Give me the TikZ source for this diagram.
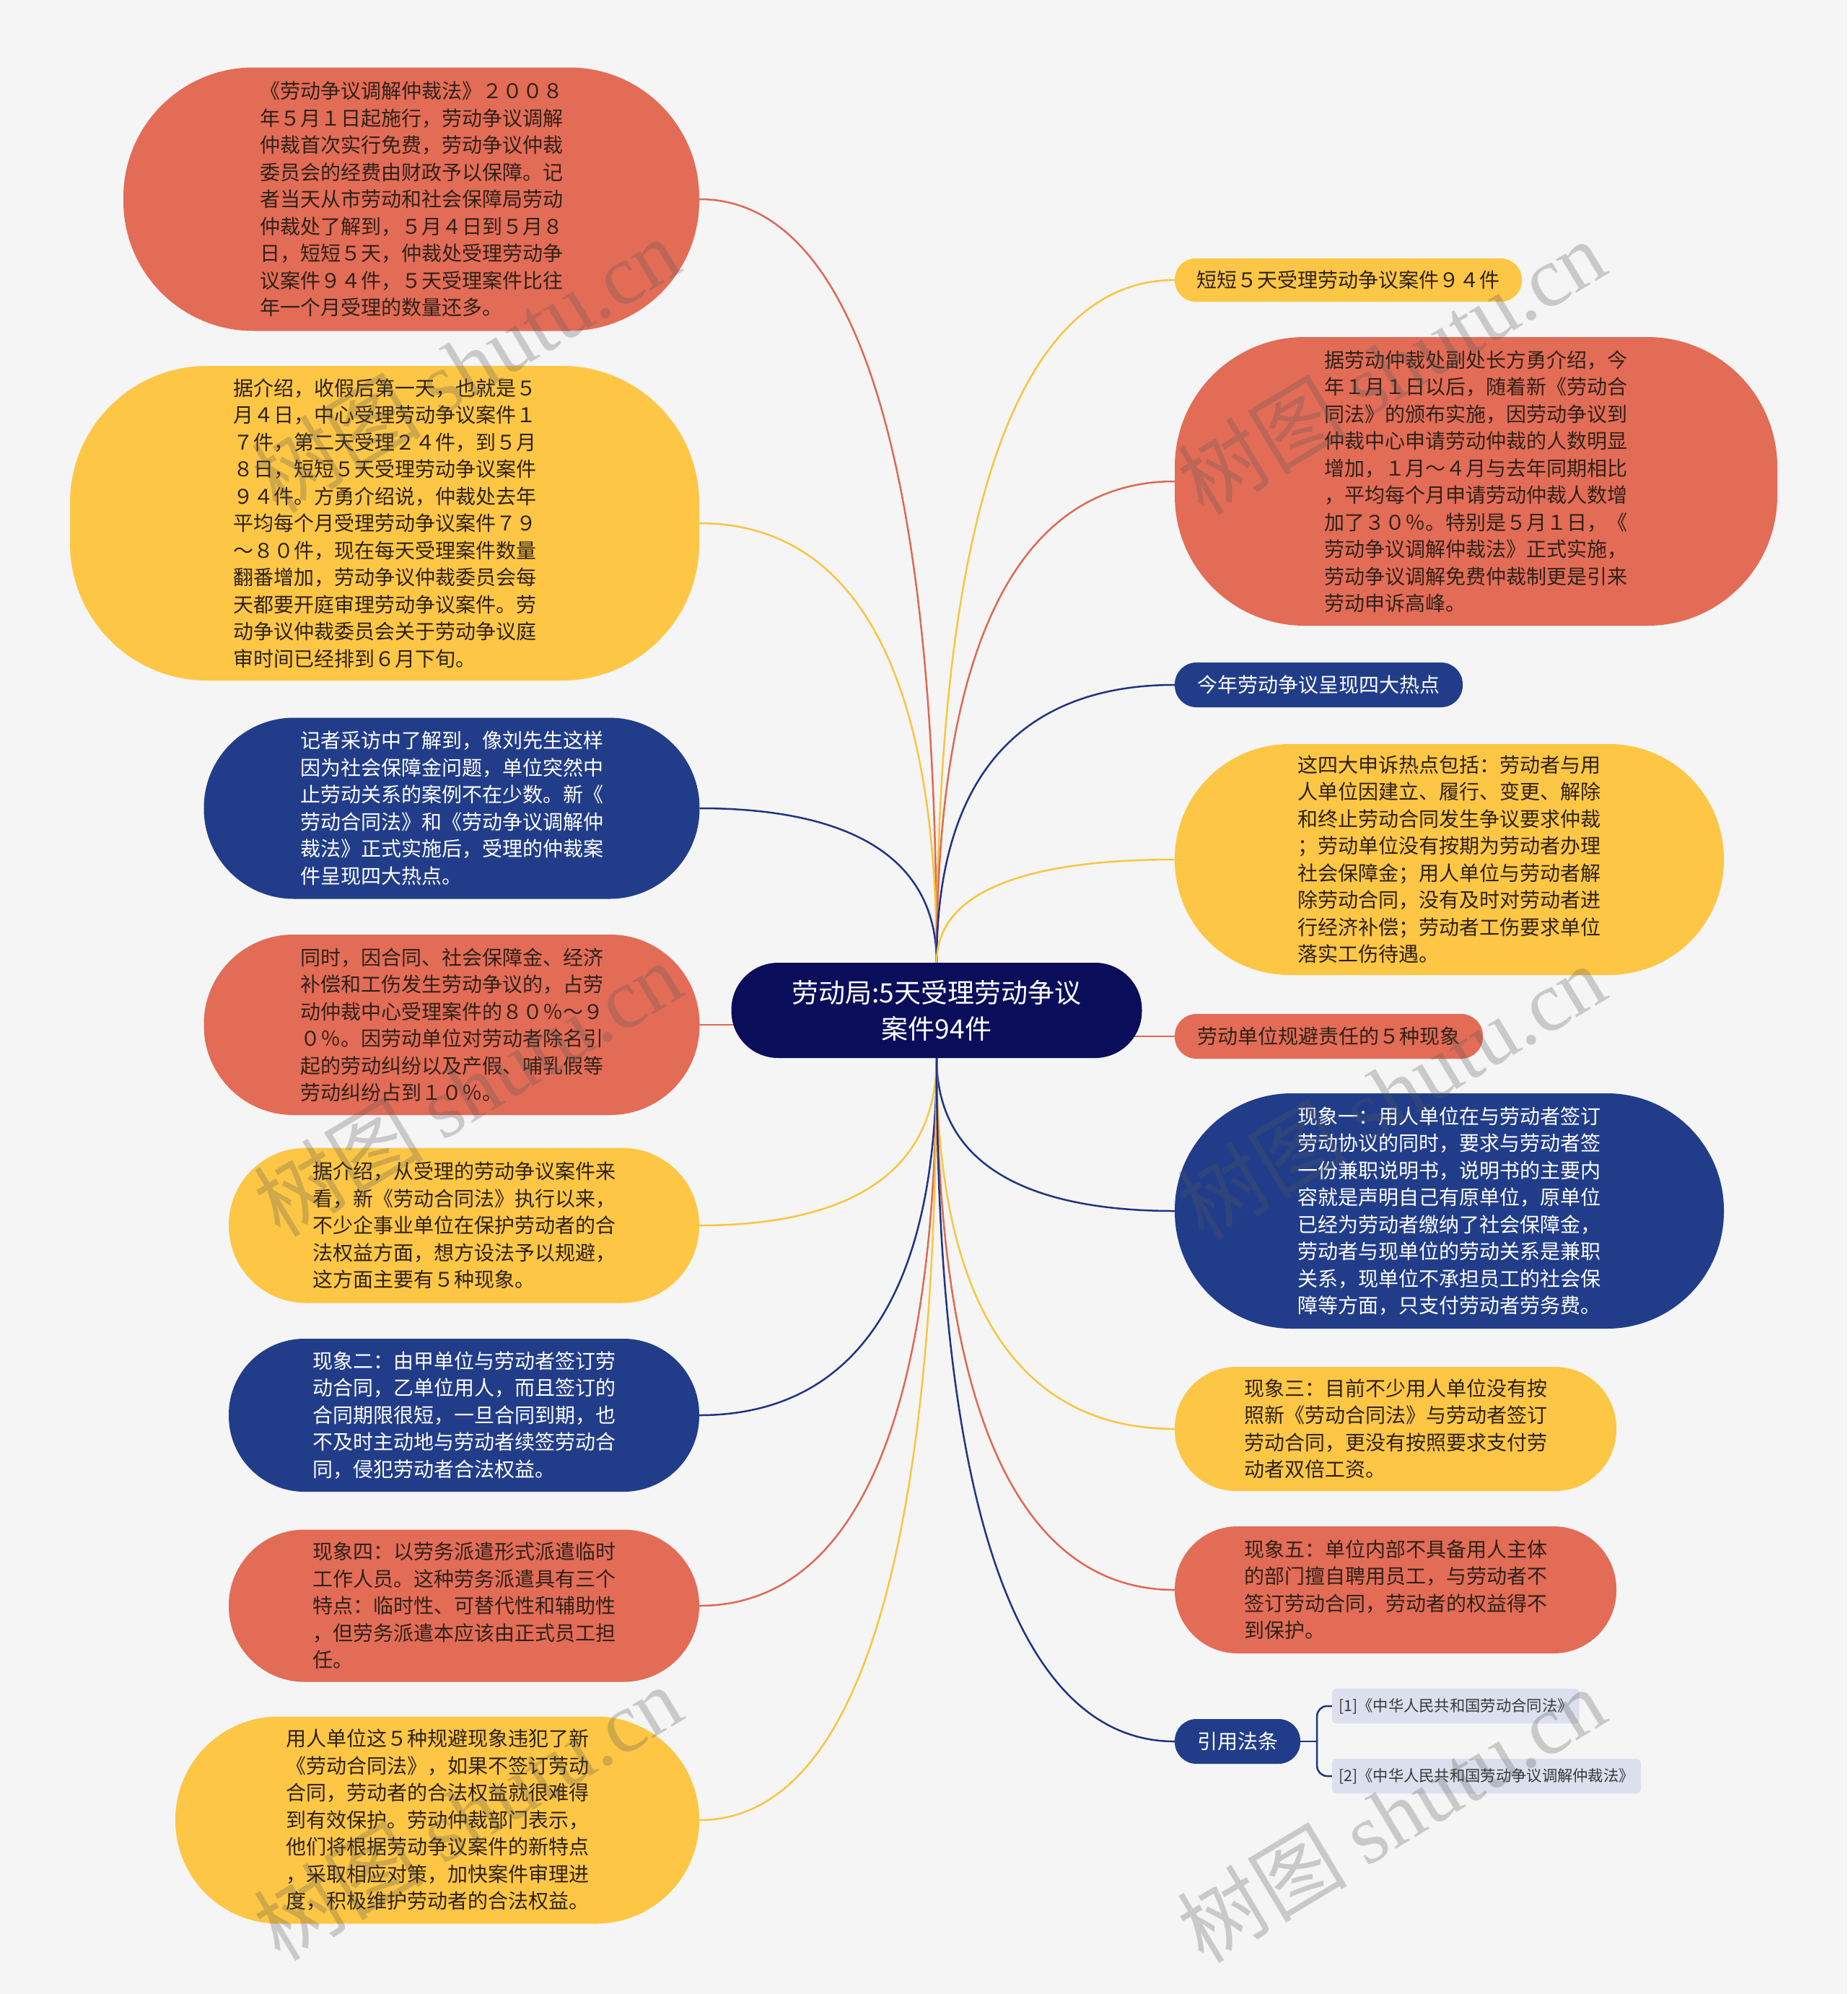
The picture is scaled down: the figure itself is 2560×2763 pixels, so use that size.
\documentclass[tikz,border=0pt]{standalone}
\usepackage{fontspec}
\setmainfont{Noto Sans CJK SC}
\newfontfamily\wmlatin{Liberation Serif}
\usetikzlibrary{calc}
\definecolor{bgc}{HTML}{F5F5F5}
\definecolor{redc}{HTML}{E36C57}
\definecolor{yelc}{HTML}{FDC745}
\definecolor{bluc}{HTML}{213D8A}
\definecolor{ctrc}{HTML}{0A0E5A}
\definecolor{refc}{HTML}{DCE0EE}
\definecolor{txtd}{HTML}{2E2118}
\definecolor{lnav}{HTML}{1E3582}
\definecolor{lred}{HTML}{DE6A52}
\definecolor{lyel}{HTML}{F8C640}
\pgfdeclarelayer{back}
\pgfdeclarelayer{bg}
\pgfsetlayers{back,bg,main}
\newcommand\mmconn[3]{\draw[ln,#1] (#2) .. controls ($(#2)!0.8!(#2|-#3)$) and ($(#3)!0.5!(#2|-#3)$) .. (#3);}
\begin{document}
\begin{tikzpicture}[x=1pt,y=-1pt,
  bx/.style={rectangle, inner sep=0pt, align=left, font=\fontsize{28}{37.5}\selectfont},
  redbox/.style={bx, fill=redc, text=txtd},
  yelbox/.style={bx, fill=yelc, text=txtd},
  blubox/.style={bx, fill=bluc, text=white},
  refbox/.style={rectangle, fill=refc, text=black!78, rounded corners=5pt, anchor=west, inner xsep=9pt, inner ysep=0pt, minimum height=48pt, font=\fontsize{21.3}{24}\selectfont},
  ln/.style={line width=2.5pt},
  wm/.style={rotate=31, text=black!65, text opacity=0.28, inner sep=0pt, font=\fontsize{118}{118}\selectfont}
]
\begin{pgfonlayer}{back}
\fill[bgc] (0,0) rectangle (2560,2763);
\end{pgfonlayer}

% center
\node[rectangle, fill=ctrc, text=white, align=center, inner sep=0pt, minimum width=569pt, minimum height=132pt, rounded corners=65pt, font=\fontsize{37}{50}\selectfont] (ctr) at (1298,1400) {劳动局:5天受理劳动争议\\案件94件};

% left column
\node[redbox, minimum width=798pt, minimum height=365pt, rounded corners=180pt] (l1) at (570,276) {《劳动争议调解仲裁法》２００８\\年５月１日起施行，劳动争议调解\\仲裁首次实行免费，劳动争议仲裁\\委员会的经费由财政予以保障。记\\者当天从市劳动和社会保障局劳动\\仲裁处了解到，５月４日到５月８\\日，短短５天，仲裁处受理劳动争\\议案件９４件，５天受理案件比往\\年一个月受理的数量还多。};

\node[yelbox, minimum width=872pt, minimum height=436pt, rounded corners=190pt] (l2) at (533,725) {据介绍，收假后第一天，也就是５\\月４日，中心受理劳动争议案件１\\７件，第二天受理２４件，到５月\\８日，短短５天受理劳动争议案件\\９４件。方勇介绍说，仲裁处去年\\平均每个月受理劳动争议案件７９\\～８０件，现在每天受理案件数量\\翻番增加，劳动争议仲裁委员会每\\天都要开庭审理劳动争议案件。劳\\动争议仲裁委员会关于劳动争议庭\\审时间已经排到６月下旬。};

\node[blubox, minimum width=687pt, minimum height=251pt, rounded corners=125pt] (l3) at (626,1120) {记者采访中了解到，像刘先生这样\\因为社会保障金问题，单位突然中\\止劳动关系的案例不在少数。新《\\劳动合同法》和《劳动争议调解仲\\裁法》正式实施后，受理的仲裁案\\件呈现四大热点。};

\node[redbox, minimum width=687pt, minimum height=250pt, rounded corners=124pt] (l4) at (626,1420) {同时，因合同、社会保障金、经济\\补偿和工伤发生劳动争议的，占劳\\动仲裁中心受理案件的８０％～９\\０％。因劳动单位对劳动者除名引\\起的劳动纠纷以及产假、哺乳假等\\劳动纠纷占到１０％。};

\node[yelbox, minimum width=652pt, minimum height=215pt, rounded corners=107pt] (l5) at (643,1698) {据介绍，从受理的劳动争议案件来\\看，新《劳动合同法》执行以来，\\不少企事业单位在保护劳动者的合\\法权益方面，想方设法予以规避，\\这方面主要有５种现象。};

\node[blubox, minimum width=652pt, minimum height=212pt, rounded corners=105pt] (l6) at (643,1961) {现象二：由甲单位与劳动者签订劳\\动合同，乙单位用人，而且签订的\\合同期限很短，一旦合同到期，也\\不及时主动地与劳动者续签劳动合\\同，侵犯劳动者合法权益。};

\node[redbox, minimum width=652pt, minimum height=211pt, rounded corners=105pt] (l7) at (643,2225) {现象四：以劳务派遣形式派遣临时\\工作人员。这种劳务派遣具有三个\\特点：临时性、可替代性和辅助性\\，但劳务派遣本应该由正式员工担\\任。};

\node[yelbox, minimum width=726pt, minimum height=287pt, rounded corners=143pt] (l8) at (606,2522) {用人单位这５种规避现象违犯了新\\《劳动合同法》，如果不签订劳动\\合同，劳动者的合法权益就很难得\\到有效保护。劳动仲裁部门表示，\\他们将根据劳动争议案件的新特点\\，采取相应对策，加快案件审理进\\度，积极维护劳动者的合法权益。};

% right column
\node[yelbox, minimum width=481pt, minimum height=60pt, rounded corners=29pt] (ra) at (1868.5,388) {短短５天受理劳动争议案件９４件};

\node[redbox, minimum width=835pt, minimum height=400pt, rounded corners=180pt] (rb) at (2045.5,667) {据劳动仲裁处副处长方勇介绍，今\\年１月１日以后，随着新《劳动合\\同法》的颁布实施，因劳动争议到\\仲裁中心申请劳动仲裁的人数明显\\增加，１月～４月与去年同期相比\\，平均每个月申请劳动仲裁人数增\\加了３０％。特别是５月１日，《\\劳动争议调解仲裁法》正式实施，\\劳动争议调解免费仲裁制更是引来\\劳动申诉高峰。};

\node[blubox, minimum width=399pt, minimum height=62pt, rounded corners=30pt] (rc) at (1827.5,949) {今年劳动争议呈现四大热点};

\node[yelbox, minimum width=761pt, minimum height=320pt, rounded corners=159pt] (rd) at (2008.5,1191) {这四大申诉热点包括：劳动者与用\\人单位因建立、履行、变更、解除\\和终止劳动合同发生争议要求仲裁\\；劳动单位没有按期为劳动者办理\\社会保障金；用人单位与劳动者解\\除劳动合同，没有及时对劳动者进\\行经济补偿；劳动者工伤要求单位\\落实工伤待遇。};

\node[redbox, minimum width=427pt, minimum height=62pt, rounded corners=30pt] (re) at (1841.5,1436) {劳动单位规避责任的５种现象};

\node[blubox, minimum width=761pt, minimum height=326pt, rounded corners=162pt] (rf) at (2008.5,1678) {现象一：用人单位在与劳动者签订\\劳动协议的同时，要求与劳动者签\\一份兼职说明书，说明书的主要内\\容就是声明自己有原单位，原单位\\已经为劳动者缴纳了社会保障金，\\劳动者与现单位的劳动关系是兼职\\关系，现单位不承担员工的社会保\\障等方面，只支付劳动者劳务费。};

\node[yelbox, minimum width=612pt, minimum height=172pt, rounded corners=85pt] (rg) at (1934,1980) {现象三：目前不少用人单位没有按\\照新《劳动合同法》与劳动者签订\\劳动合同，更没有按照要求支付劳\\动者双倍工资。};

\node[redbox, minimum width=612pt, minimum height=176pt, rounded corners=87pt] (rh) at (1934,2203) {现象五：单位内部不具备用人主体\\的部门擅自聘用员工，与劳动者不\\签订劳动合同，劳动者的权益得不\\到保护。};

\node[blubox, minimum width=174pt, minimum height=62pt, rounded corners=30pt] (ri) at (1715,2413) {引用法条};

\node[refbox] (r1) at (1846,2364) {[1]《中华人民共和国劳动合同法》};
\node[refbox] (r2) at (1846,2461) {[2]《中华人民共和国劳动争议调解仲裁法》};

% connectors
\begin{pgfonlayer}{bg}
\mmconn{lred}{ctr.north}{l1.east}
\mmconn{lyel}{ctr.north}{l2.east}
\mmconn{lnav}{ctr.north}{l3.east}
\draw[ln,lred] (ctr.center|-l4.east) -- (l4.east);
\mmconn{lyel}{ctr.south}{l5.east}
\mmconn{lnav}{ctr.south}{l6.east}
\mmconn{lred}{ctr.south}{l7.east}
\mmconn{lyel}{ctr.south}{l8.east}
\mmconn{lyel}{ctr.north}{ra.west}
\mmconn{lred}{ctr.north}{rb.west}
\mmconn{lnav}{ctr.north}{rc.west}
\mmconn{lyel}{ctr.north}{rd.west}
\draw[ln,lred] (ctr.center|-re.west) -- (re.west);
\mmconn{lnav}{ctr.south}{rf.west}
\mmconn{lyel}{ctr.south}{rg.west}
\mmconn{lred}{ctr.south}{rh.west}
\mmconn{lnav}{ctr.south}{ri.west}
\coordinate (jn) at ($(ri.east)+(23,0)$);
\draw[ln,lnav] (ri.east) -- (jn);
\draw[ln,lnav,rounded corners=14pt] (jn) |- (r1.west);
\draw[ln,lnav,rounded corners=14pt] (jn) |- (r2.west);
\end{pgfonlayer}

% watermarks
\node[wm] (w1) at (645,505) {树图 {\wmlatin shutu.cn}};
\node[wm] (w2) at (1928,508) {树图 {\wmlatin shutu.cn}};
\node[wm] (w3) at (648,1508) {树图 {\wmlatin shutu.cn}};
\node[wm] (w4) at (1928,1512) {树图 {\wmlatin shutu.cn}};
\node[wm] (w5) at (648,2511) {树图 {\wmlatin shutu.cn}};
\node[wm] (w6) at (1928,2514) {树图 {\wmlatin shutu.cn}};
\end{tikzpicture}
\end{document}
